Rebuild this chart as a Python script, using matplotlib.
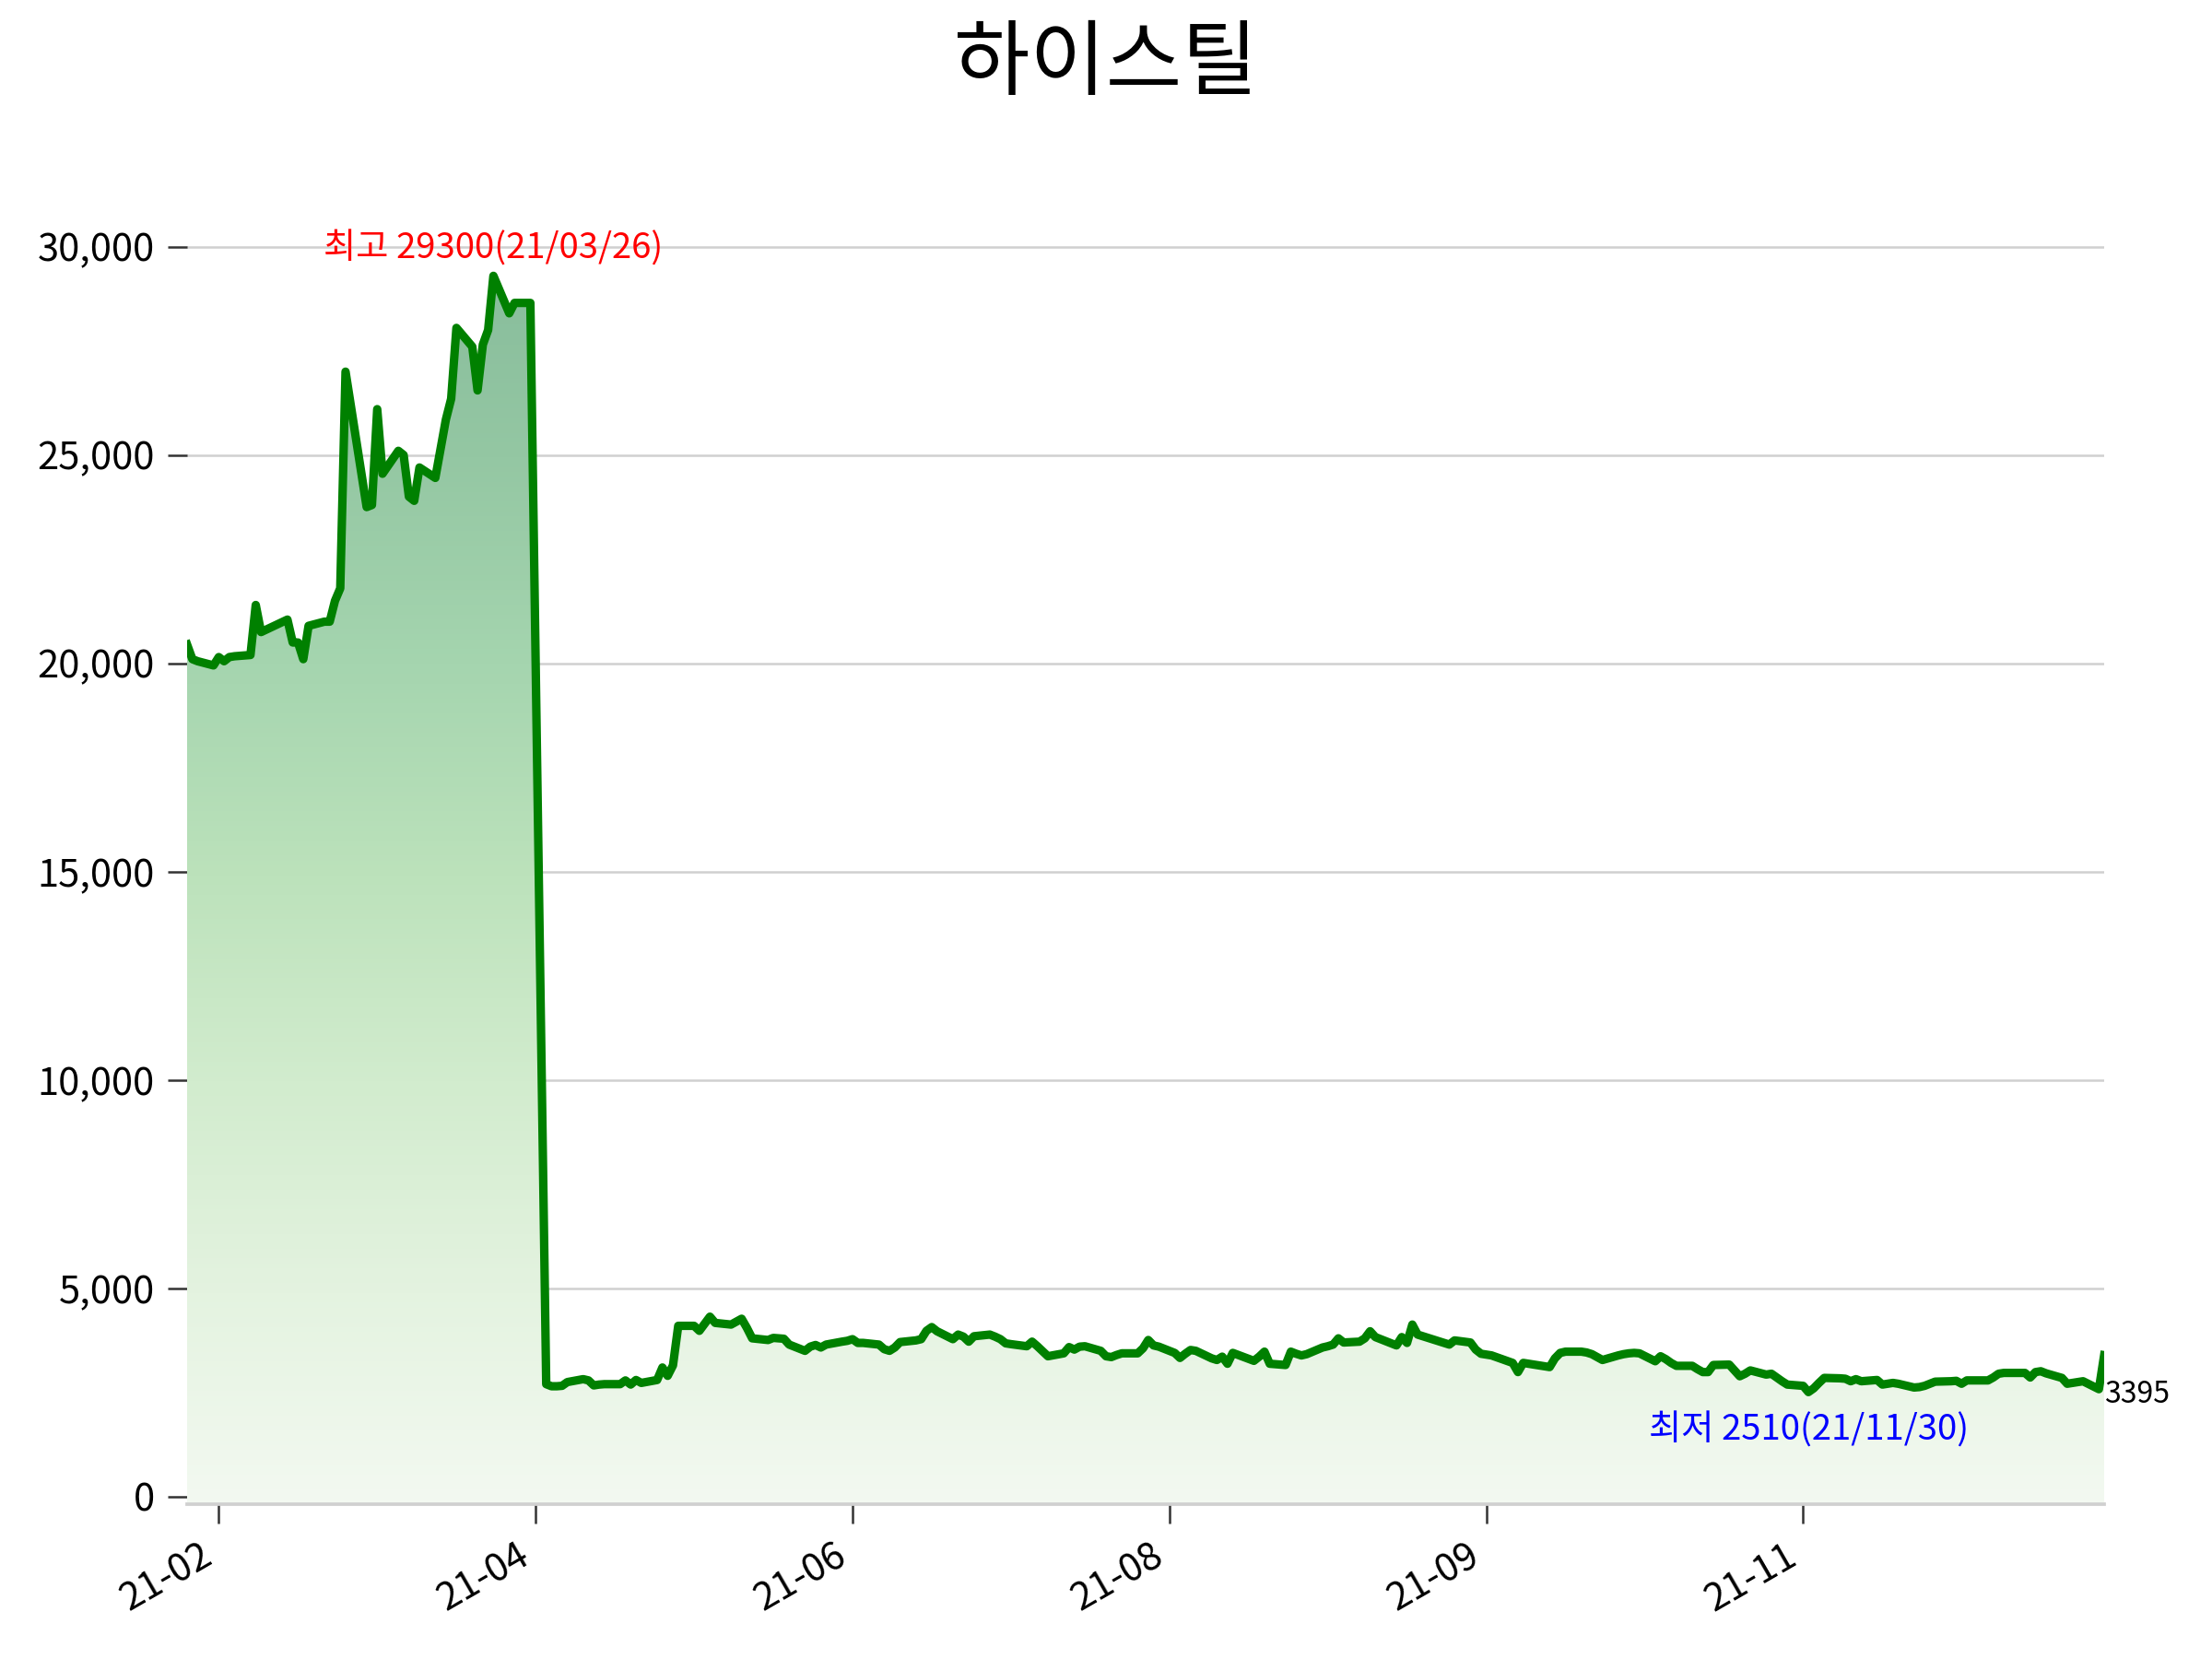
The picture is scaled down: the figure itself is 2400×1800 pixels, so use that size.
import numpy as np
import pandas as pd
import matplotlib

matplotlib.use("Agg")
import matplotlib.pyplot as plt
import matplotlib.dates as mdates
from matplotlib.colors import LinearSegmentedColormap
from matplotlib.ticker import FuncFormatter

plt.rcParams["font.family"] = ["Noto Sans CJK KR", "DejaVu Sans"]

# --- data -------------------------------------------------------------------
stock_name = "하이스틸"
start_date = "2021-01-27"
end_date = "2022-01-25"
krx_holidays = [
    "2021-02-11", "2021-02-12", "2021-03-01", "2021-05-05", "2021-05-19",
    "2021-08-16", "2021-09-20", "2021-09-21", "2021-09-22", "2021-10-04",
    "2021-10-11", "2021-12-31",
]

close_jan21 = [20450, 20100, 20050]
close_feb21 = [19950, 20150, 20050, 20150, 20170, 20200, 21400, 20750, 21050,
               20500, 20500, 20100, 20900, 21000, 21000, 21500, 21800, 27000]
close_mar21 = [23750, 23800, 26100, 24550, 25100, 25000, 24000, 23900, 24700,
               24450, 25150, 25850, 26350, 28050, 27600, 26550, 27650, 28000,
               29300, 28400, 28650, 28650]
close_apr21 = [28650, 28650, 2700, 2650, 2650, 2660, 2750, 2820, 2790, 2670,
               2690, 2700, 2700, 2790, 2690, 2800, 2730, 2800, 3100, 2900,
               3150, 4100]
close_may21 = [4100, 3980, 4320, 4170, 4130, 4200, 4270, 4050, 3800, 3760,
               3810, 3790, 3650, 3500, 3600, 3640, 3580, 3650, 3720]
close_jun21 = [3740, 3780, 3690, 3690, 3650, 3540, 3500, 3580, 3710, 3750,
               3780, 3980, 4070, 3970, 3780, 3890, 3840, 3720, 3850, 3890,
               3840, 3780]
close_jul21 = [3680, 3660, 3610, 3720, 3610, 3490, 3370, 3440, 3590, 3530,
               3600, 3610, 3500, 3370, 3350, 3400, 3440, 3440, 3560, 3760,
               3630, 3600]
close_aug21 = [3450, 3330, 3430, 3520, 3500, 3320, 3280, 3360, 3190, 3450,
               3260, 3360, 3480, 3190, 3160, 3480, 3430, 3390, 3420, 3580,
               3610]
close_sep21 = [3650, 3800, 3700, 3720, 3800, 3970, 3830, 3780, 3630, 3830,
               3690, 4130, 3890, 3650, 3750, 3700, 3530, 3430, 3410]
close_oct21 = [3390, 3210, 2990, 3210, 3190, 3110, 3320, 3450, 3480, 3480,
               3460, 3420, 3350, 3280, 3390, 3420, 3440, 3450, 3440]
close_nov21 = [3250, 3370, 3300, 3210, 3140, 3140, 3060, 2990, 2990, 3160,
               3170, 3030, 2890, 2950, 3030, 2930, 2950, 2860, 2770, 2690,
               2660, 2510]
close_dec21 = [2600, 2730, 2850, 2840, 2830, 2770, 2820, 2770, 2800, 2690,
               2710, 2730, 2710, 2620, 2630, 2660, 2710, 2760, 2770, 2780,
               2710, 2790]
close_jan22 = [2790, 2860, 2950, 2970, 2970, 2970, 2860, 2990, 3010, 2960,
               2850, 2710, 2730, 2750, 2770, 2580, 3395]

tick_dates = ["2021-02-02", "2021-04-03", "2021-06-02",
              "2021-08-01", "2021-09-30", "2021-11-29"]

# --- build series -------------------------------------------------------------
days = pd.bdate_range(start_date, end_date)
days = days[~days.isin(pd.to_datetime(krx_holidays))]
close = np.array(close_jan21 + close_feb21 + close_mar21 + close_apr21
                 + close_may21 + close_jun21 + close_jul21 + close_aug21
                 + close_sep21 + close_oct21 + close_nov21 + close_dec21
                 + close_jan22, dtype=float)
assert len(days) == len(close), (len(days), len(close))
prices = pd.Series(close, index=days)

hi_day, hi_val = prices.idxmax(), prices.max()
lo_day, lo_val = prices.idxmin(), prices.min()

# --- figure -----------------------------------------------------------------
fig = plt.figure(figsize=(8, 6), dpi=300)
ax = fig.add_axes([203 / 2400, 1 - 1632 / 1800, 2080 / 2400, 1500 / 1800])

y_bottom, y_top = -180, 33000
x = mdates.date2num(prices.index.to_pydatetime())

# gradient fill under the line
fill = ax.fill_between(x, prices.values, y_bottom, facecolor="none",
                       edgecolor="none")
grad_colors = ["#f3f9f1", "#e4f3e0", "#d2ecce", "#bce2bb", "#a5d5af",
               "#94c7a3", "#87bc9b"]
cmap = LinearSegmentedColormap.from_list("fade", grad_colors)
grad = np.linspace(0, 1, 256).reshape(-1, 1)
im = ax.imshow(grad, cmap=cmap, aspect="auto", origin="lower",
               extent=[x[0], x[-1], y_bottom, 30000], zorder=1)
im.set_clip_path(fill.get_paths()[0], transform=ax.transData)

ax.plot(x, prices.values, color="green", lw=2.2, zorder=3)

ax.set_xlim(x[0], x[-1])
ax.set_ylim(y_bottom, y_top)

# annotations
ax.annotate(f"최고 {int(hi_val)}({hi_day:%y/%m/%d})",
            xy=(mdates.date2num(hi_day), hi_val), xytext=(0, 7),
            textcoords="offset points", ha="center", va="center",
            color="red", fontsize=9.2)
ax.annotate(f"최저 {int(lo_val)}({lo_day:%y/%m/%d})",
            xy=(mdates.date2num(lo_day), lo_val), xytext=(0, -10),
            textcoords="offset points", ha="center", va="center",
            color="blue", fontsize=9.2)
ax.annotate(f"{int(close[-1])}", xy=(x[-1], close[-1]), xytext=(0, -6.5),
            textcoords="offset points", ha="left", va="top",
            color="black", fontsize=7.7, annotation_clip=False)

# axes styling
ax.set_yticks(range(0, 30001, 5000))
ax.yaxis.set_major_formatter(FuncFormatter(lambda v, p: f"{v:,.0f}"))
tick_dt = pd.to_datetime(tick_dates)
ax.set_xticks(mdates.date2num(tick_dt.to_pydatetime()))
ax.set_xticklabels([d.strftime("%y-%m") for d in tick_dt],
                   rotation=30, ha="right")
ax.tick_params(axis="both", labelsize=10, length=5, width=0.6,
               color="#333333")
ax.grid(axis="y", color="#d0d0d0", lw=0.6, zorder=0)
ax.set_axisbelow(True)
for side in ["top", "right", "left"]:
    ax.spines[side].set_visible(False)
ax.spines["bottom"].set_color("#d0d0d0")
ax.spines["bottom"].set_linewidth(0.9)

fig.suptitle(stock_name, y=0.9605, va="center", fontsize=21.5)

fig.savefig("out.png", dpi=300, facecolor="white")
